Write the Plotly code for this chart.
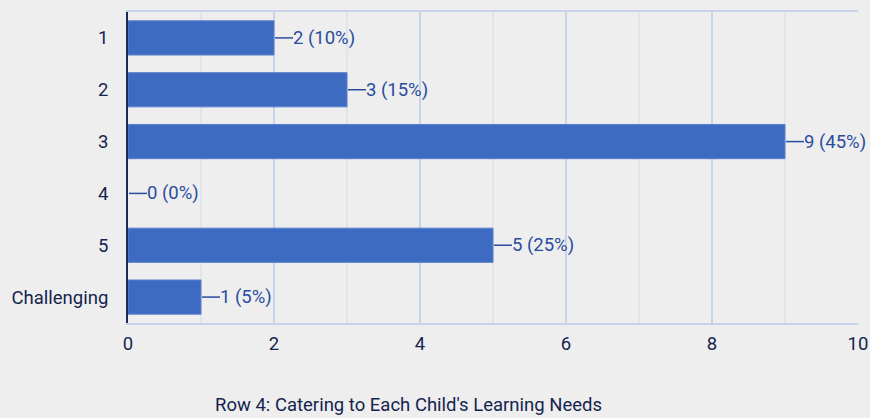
import plotly.graph_objects as go

categories = ["1", "2", "3", "4", "5", "Challenging"]
counts = [2, 3, 9, 0, 5, 1]
percents = [10, 15, 45, 0, 25, 5]
x_ticks = [0, 2, 4, 6, 8, 10]
title_text = "Row 4: Catering to Each Child's Learning Needs"

BG = "#eeeeee"
BAR = "#3d6bc1"
NAVY = "#15244f"
LABEL = "#2a4ca0"
FONT = "Roboto, Arial, sans-serif"
FS = 18.5

fig = go.Figure()
fig.add_trace(go.Bar(
    y=categories,
    x=counts,
    orientation="h",
    marker=dict(color=BAR, line=dict(color="#5b82cf", width=[1 if c else 0 for c in counts])),
    hoverinfo="skip",
))

shapes = []
annotations = []
for i, (v, p) in enumerate(zip(counts, percents)):
    # short leader line from the bar end to its value label (category index on y)
    shapes.append(dict(
        type="line", xref="x", yref="y", xsizemode="pixel", xanchor=v,
        x0=1, x1=19, y0=i, y1=i,
        line=dict(color=LABEL, width=1.5),
    ))
    annotations.append(dict(
        x=v, y=i, xref="x", yref="y", text=f"{v} ({p}%)",
        showarrow=False, xanchor="left", yanchor="middle", xshift=17,
        font=dict(family=FONT, size=FS, color=LABEL),
    ))

# minor (odd) grid lines drawn lighter
for g in [1, 3, 5, 7, 9]:
    shapes.append(dict(
        type="line", xref="x", yref="paper", x0=g, x1=g, y0=0, y1=1,
        line=dict(color="#dbe2ec", width=1.5), layer="below",
    ))

annotations.append(dict(
    x=0.3836, y=-0.265, xref="paper", yref="paper", text=title_text,
    showarrow=False, xanchor="center", yanchor="middle",
    font=dict(family=FONT, size=FS, color=NAVY),
))

fig.update_layout(
    width=870, height=418,
    margin=dict(l=128, r=12, t=12, b=95, autoexpand=False),
    paper_bgcolor=BG, plot_bgcolor=BG,
    bargap=0.34,
    showlegend=False,
    shapes=shapes,
    annotations=annotations,
    xaxis=dict(
        range=[0, 10], tickvals=x_ticks, ticktext=[str(t) for t in x_ticks],
        showgrid=True, gridcolor="#c6d3e8", gridwidth=1.5,
        zeroline=False, showline=True, mirror=True,
        linecolor="#c6d3e8", linewidth=2,
        ticks="", ticklabelstandoff=3, automargin=False,
        tickfont=dict(family=FONT, size=FS, color=NAVY),
        fixedrange=True,
    ),
    yaxis=dict(
        type="category",
        autorange="reversed", categoryorder="array", categoryarray=categories,
        showgrid=False, zeroline=False, showline=True,
        linecolor="#1c2d55", linewidth=2,
        ticks="", ticklabelstandoff=14, automargin=False,
        tickfont=dict(family=FONT, size=FS, color=NAVY),
        fixedrange=True,
    ),
    font=dict(family=FONT),
)

fig.write_html("out.html", config={"displayModeBar": False})
